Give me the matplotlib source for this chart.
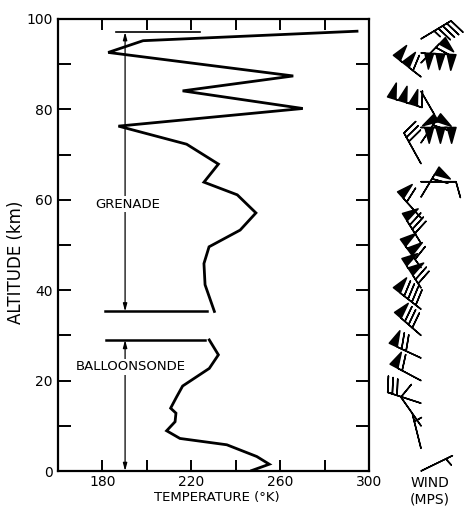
import numpy as np
import matplotlib
matplotlib.use("Agg")
import matplotlib.pyplot as plt

# ---------------- data ----------------
grenade_alt = [97.3, 95.2, 92.6, 87.4, 84.1, 80.2, 76.3, 72.3, 67.9, 63.9, 61.1,
               57.1, 53.3, 49.6, 45.9, 41.2, 35.3]
grenade_temp = [294.6, 198.3, 182.6, 265.9, 216.1, 270.2, 187.2, 217.9, 232.2,
                225.7, 240.7, 249.1, 242.0, 228.0, 225.7, 226.2, 230.4]

balloon_alt = [29.0, 25.7, 22.7, 18.8, 16.4, 13.9, 12.8, 10.9, 8.9, 7.2, 5.8,
               3.2, 1.5, 0.1]
balloon_temp = [228.1, 232.2, 228.1, 216.1, 213.4, 210.7, 213.1, 212.7, 208.9,
                214.9, 236.0, 249.5, 255.1, 247.2]

# range bars (altitude, temperature from, temperature to)
grenade_top = (97.1, 186.1, 223.9)
grenade_bottom = (35.3, 181.2, 227.0)
balloon_top = (29.0, 181.6, 226.2)
range_temp = 190.2

# wind barbs: altitude (km), direction wind blows from (deg), speed (m/s)
wind_alt = [95.6, 92.5, 90.3, 87.2, 84.0, 80.5, 76.0, 72.6, 68.0, 64.0, 60.6,
            56.0, 50.4, 45.0, 40.5, 35.8, 30.0, 25.0, 20.0, 15.0, 10.0, 5.0, 0.0]
wind_dir = [59, 93, 44, 308, 150, 287, 90, 34, 331, 90, 31,
            318, 328, 324, 327, 308, 311, 295, 298, 288, 325, 346, 64]
wind_speed = [45, 150, 60, 110, 50, 160, 150, 60, 30, 10, 60,
              60, 80, 110, 120, 90, 80, 70, 60, 30, 10, 5, 5]

x_ticks = [160, 180, 200, 220, 240, 260, 280, 300]
x_labels = ["", "180", "", "220", "", "260", "", "300"]
y_ticks = [0, 10, 20, 30, 40, 50, 60, 70, 80, 90, 100]
y_labels = ["0", "", "20", "", "40", "", "60", "", "80", "", "100"]

# ---------------- figure ----------------
plt.rcParams['font.family'] = ['DejaVu Sans']
W, H = 466, 511
fig = plt.figure(figsize=(W / 100, H / 100), dpi=100)

def fx(px):
    return px / W

def fy(py):
    return 1 - py / H

ax_l, ax_r, ax_t, ax_b = 58, 369, 19, 471
ax = fig.add_axes([fx(ax_l), fy(ax_b), fx(ax_r - ax_l), (ax_b - ax_t) / H])
ax.set_xlim(160, 300)
ax.set_ylim(0, 100)

for s in ax.spines.values():
    s.set_linewidth(1.6)

ax.set_xticks(x_ticks)
ax.set_xticklabels(x_labels, fontsize=10)
ax.set_yticks(y_ticks)
ax.set_yticklabels(y_labels, fontsize=10)
ax.tick_params(axis='both', direction='in', length=8, width=1.4,
               top=True, right=True)
ax.tick_params(axis='x', pad=3)
ax.tick_params(axis='y', length=9.5, pad=4)
# hide ticks at the corners
for t in ax.xaxis.get_major_ticks():
    if t.get_loc() in (160, 300):
        t.tick1line.set_visible(False)
        t.tick2line.set_visible(False)
for t in ax.yaxis.get_major_ticks():
    if t.get_loc() in (0, 100):
        t.tick1line.set_visible(False)
        t.tick2line.set_visible(False)

ax.plot(grenade_temp, grenade_alt, color='black', lw=2.0, solid_joinstyle='miter')
ax.plot(balloon_temp, balloon_alt, color='black', lw=2.0, solid_joinstyle='miter')

for alt, t0, t1 in (grenade_top, grenade_bottom, balloon_top):
    ax.plot([t0, t1], [alt, alt], color='black', lw=1.8 if alt != grenade_top[0] else 1.2)

arrow_kw = dict(arrowstyle='<|-|>,head_length=0.45,head_width=0.12', color='black',
                lw=0.9, shrinkA=0, shrinkB=0)
ax.annotate('', xy=(range_temp, grenade_top[0]), xytext=(range_temp, grenade_bottom[0]),
            arrowprops=arrow_kw)
ax.annotate('', xy=(range_temp, balloon_top[0]), xytext=(range_temp, 0),
            arrowprops=arrow_kw)

ax.text(191.5, 59, 'GRENADE', ha='center', va='center', fontsize=9.5,
        bbox=dict(facecolor='white', edgecolor='none', pad=1.0))
ax.text(192.7, 23.1, 'BALLOONSONDE', ha='center', va='center', fontsize=9.5,
        bbox=dict(facecolor='white', edgecolor='none', pad=1.0))

fig.text(fx(16), fy(262), 'ALTITUDE (km)', rotation=90, ha='center', va='center',
         fontsize=12)
fig.text(fx(217), fy(497), 'TEMPERATURE (\u00b0K)', ha='center', va='center',
         fontsize=9.5)

# ---------------- wind barbs ----------------
wax = fig.add_axes([fx(370), fy(ax_b), fx(W - 370), (ax_b - ax_t) / H])
wax.set_xlim(370, W)
wax.set_ylim(0, 100)
wax.axis('off')
d = np.radians(wind_dir)
spd = np.array(wind_speed, dtype=float)
u = -spd * np.sin(d)
v = -spd * np.cos(d)
wax.barbs(np.full(len(wind_alt), 421.0), wind_alt, u, v, length=7.1, pivot='tip',
          barb_increments=dict(half=5, full=10, flag=50),
          sizes=dict(spacing=0.14, height=0.45, width=0.25),
          linewidth=1.1, color='black', clip_on=False)

fig.text(fx(430), fy(483), 'WIND', ha='center', va='center', fontsize=10)
fig.text(fx(430), fy(499), '(MPS)', ha='center', va='center', fontsize=10)

fig.savefig('out.png', dpi=100)
